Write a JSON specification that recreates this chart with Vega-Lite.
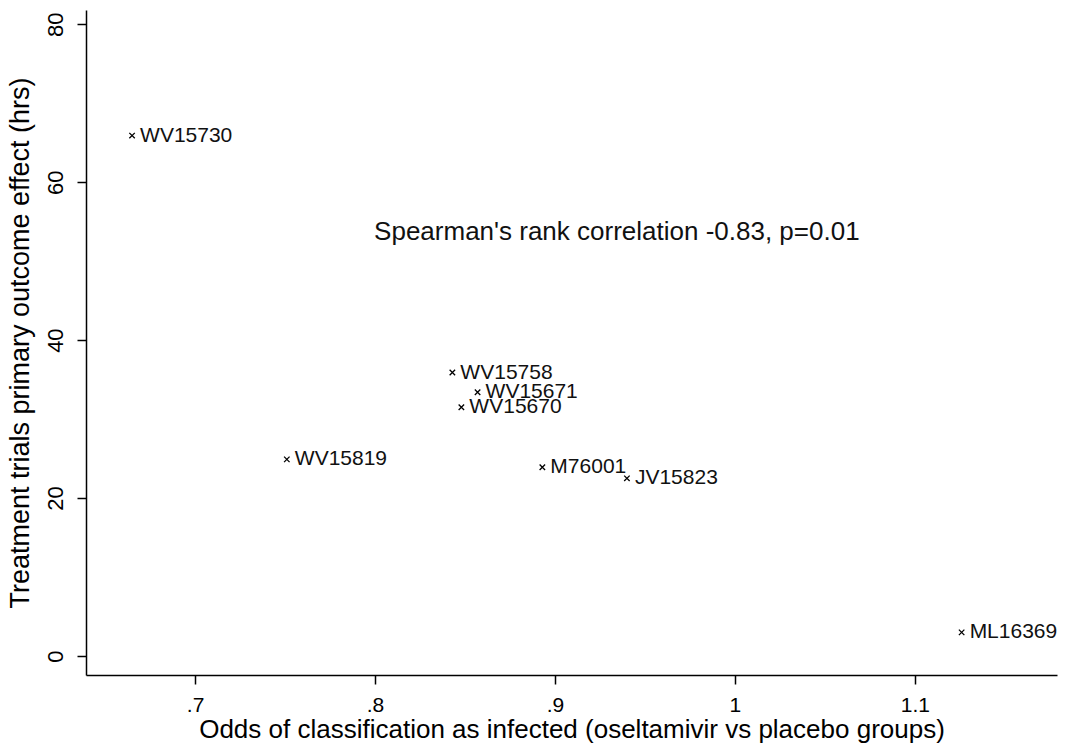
{
  "$schema": "https://vega.github.io/schema/vega-lite/v6.json",
  "width": 971,
  "height": 665,
  "autosize": {"type": "none"},
  "padding": {"left": 86, "top": 10, "right": 14, "bottom": 74},
  "background": "white",
  "config": {"view": {"stroke": null}, "font": "Liberation Sans"},
  "datasets": {
    "trials": [
      {"trial": "WV15730", "odds": 0.665, "effect": 65.9},
      {"trial": "WV15758", "odds": 0.843, "effect": 35.9},
      {"trial": "WV15671", "odds": 0.857, "effect": 33.4},
      {"trial": "WV15670", "odds": 0.848, "effect": 31.5},
      {"trial": "WV15819", "odds": 0.751, "effect": 24.9},
      {"trial": "M76001", "odds": 0.893, "effect": 23.9},
      {"trial": "JV15823", "odds": 0.94, "effect": 22.5},
      {"trial": "ML16369", "odds": 1.126, "effect": 3.0}
    ],
    "note": [
      {"text": "Spearman's rank correlation -0.83, p=0.01", "odds": 0.7995, "effect": 53.7}
    ]
  },
  "layer": [
    {
      "data": {"name": "trials"},
      "mark": {"type": "point", "shape": "M-1,-1L1,1M-1,1L1,-1", "size": 30, "filled": false, "stroke": "#000", "strokeWidth": 1.3, "opacity": 1},
      "encoding": {
        "x": {
          "field": "odds", "type": "quantitative",
          "scale": {"domain": [0.6394, 1.179], "nice": false, "zero": false},
          "axis": {
            "values": [0.7, 0.8, 0.9, 1, 1.1],
            "labelExpr": "datum.value < 1 ? slice(format(datum.value, '.1f'), 1) : format(datum.value, '~g')",
            "title": "Odds of classification as infected (oseltamivir vs placebo groups)",
            "grid": false,
            "domainColor": "#000", "domainWidth": 1.5,
            "tickColor": "#000", "tickWidth": 1.5, "tickSize": 9,
            "labelFontSize": 21, "labelColor": "#000", "labelPadding": 10,
            "titleFontSize": 26, "titleFontWeight": "normal", "titleColor": "#000", "titlePadding": 1
          }
        },
        "y": {
          "field": "effect", "type": "quantitative",
          "scale": {"domain": [-2.4, 81.8], "nice": false, "zero": false},
          "axis": {
            "values": [0, 20, 40, 60, 80],
            "title": "Treatment trials primary outcome effect (hrs)",
            "grid": false,
            "domainColor": "#000", "domainWidth": 1.5,
            "tickColor": "#000", "tickWidth": 1.5, "tickSize": 9,
            "labelFontSize": 22, "labelColor": "#000", "labelPadding": 10,
            "labelAngle": -90, "labelAlign": "center", "labelBaseline": "bottom",
            "titleFontSize": 27, "titleFontWeight": "normal", "titleColor": "#000", "titlePadding": 10
          }
        }
      }
    },
    {
      "data": {"name": "trials"},
      "mark": {"type": "text", "align": "left", "baseline": "middle", "dx": 8, "fontSize": 21, "color": "#111"},
      "encoding": {
        "x": {"field": "odds", "type": "quantitative"},
        "y": {"field": "effect", "type": "quantitative"},
        "text": {"field": "trial"}
      }
    },
    {
      "data": {"name": "note"},
      "mark": {"type": "text", "align": "left", "baseline": "middle", "fontSize": 26, "color": "#111"},
      "encoding": {
        "x": {"field": "odds", "type": "quantitative"},
        "y": {"field": "effect", "type": "quantitative"},
        "text": {"field": "text"}
      }
    }
  ]
}
